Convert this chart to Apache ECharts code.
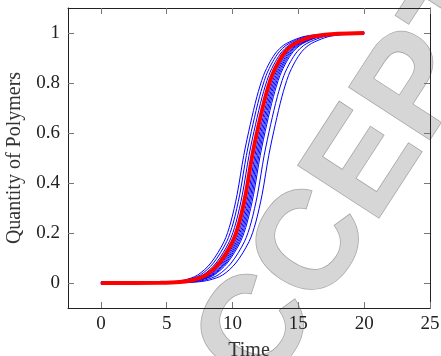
<!DOCTYPE html>
<html>
<head>
<meta charset="utf-8">
<script src="https://cdn.jsdelivr.net/npm/echarts@6/dist/echarts.min.js"></script>
<style>
  html, body { margin: 0; padding: 0; background: #fff; }
  #main { width: 441px; height: 356px; }
</style>
</head>
<body>
<div id="main"></div>
<script>
var yLevels = [0, 0.001, 0.004, 0.012, 0.032, 0.08, 0.165, 0.24, 0.355, 0.51, 0.635, 0.745, 0.83, 0.885, 0.925, 0.95, 0.965, 0.985, 0.993, 0.997, 1];

// time at which each curve reaches the level above
var redTimes = [0, 4.5, 6, 7, 8, 9, 10, 10.5, 11, 11.5, 12, 12.5, 13, 13.5, 14, 14.5, 15, 16, 17, 18, 20];
var blueTimes = [
    [0, 3.85, 5.35, 6.35, 7.35, 8.35, 9.35, 9.85, 10.35, 10.85, 11.35, 11.85, 12.35, 12.85, 13.35, 13.85, 14.35, 15.35, 16.35, 17.35, 20],
    [0, 4.05, 5.55, 6.55, 7.55, 8.55, 9.55, 10.05, 10.55, 11.05, 11.55, 12.05, 12.55, 13.05, 13.55, 14.05, 14.55, 15.55, 16.55, 17.55, 20],
    [0, 4.25, 5.75, 6.75, 7.75, 8.75, 9.75, 10.25, 10.75, 11.25, 11.75, 12.25, 12.75, 13.25, 13.75, 14.25, 14.75, 15.75, 16.75, 17.75, 20],
    [0, 4.7, 6.2, 7.2, 8.2, 9.2, 10.2, 10.7, 11.2, 11.7, 12.2, 12.7, 13.2, 13.7, 14.2, 14.7, 15.2, 16.2, 17.2, 18.2, 20],
    [0, 4.8, 6.3, 7.3, 8.3, 9.3, 10.3, 10.8, 11.3, 11.8, 12.3, 12.8, 13.3, 13.8, 14.3, 14.8, 15.3, 16.3, 17.3, 18.3, 20],
    [0, 4.9, 6.4, 7.4, 8.4, 9.4, 10.4, 10.9, 11.4, 11.9, 12.4, 12.9, 13.4, 13.9, 14.4, 14.9, 15.4, 16.4, 17.4, 18.4, 20],
    [0, 5.0, 6.5, 7.5, 8.5, 9.5, 10.5, 11.0, 11.5, 12.0, 12.5, 13.0, 13.5, 14.0, 14.5, 15.0, 15.5, 16.5, 17.5, 18.5, 20],
    [0, 5.1, 6.6, 7.6, 8.6, 9.6, 10.6, 11.1, 11.6, 12.1, 12.6, 13.1, 13.6, 14.1, 14.6, 15.1, 15.6, 16.6, 17.6, 18.6, 20],
    [0, 5.4, 6.9, 7.9, 8.9, 9.9, 10.9, 11.4, 11.9, 12.4, 12.9, 13.4, 13.9, 14.4, 14.9, 15.4, 15.9, 16.9, 17.9, 18.9, 20],
    [0, 5.75, 7.25, 8.25, 9.25, 10.25, 11.25, 11.75, 12.25, 12.75, 13.25, 13.75, 14.25, 14.75, 15.25, 15.75, 16.25, 17.25, 18.25, 19.25, 20]
];

var xTicks = [0, 5, 10, 15, 20, 25];
var yTicks = [0, 0.2, 0.4, 0.6, 0.8, 1];

var serif = '"Liberation Serif", "DejaVu Serif", serif';
var tickColor = '#777';

function pairs(times) {
    return times.map(function (t, i) { return [t, yLevels[i]]; });
}

var series = blueTimes.map(function (times) {
    return {
        type: 'line',
        data: pairs(times),
        showSymbol: false,
        smooth: 0.3,
        lineStyle: { color: '#0000ff', width: 1 },
        z: 3,
        silent: true
    };
});
series.push({
    type: 'line',
    data: pairs(redTimes),
    showSymbol: false,
    smooth: 0.3,
    lineStyle: { color: '#ff0000', width: 4 },
    z: 4,
    silent: true
});

function xAxisDef(pos, show) {
    return {
        type: 'value', position: pos, min: -2.5, max: 25,
        name: show ? 'Time' : '', nameLocation: 'middle', nameGap: 33,
        nameTextStyle: { fontFamily: serif, fontSize: 20, color: '#333' },
        axisLine: { show: true, onZero: false, lineStyle: { color: '#222', width: 1 } },
        axisTick: { show: true, inside: true, length: 6, customValues: xTicks, lineStyle: { color: tickColor } },
        axisLabel: { show: show, customValues: xTicks, margin: 7, fontFamily: serif, fontSize: 19, color: '#222' },
        splitLine: { show: false }
    };
}
function yAxisDef(pos, show) {
    return {
        type: 'value', position: pos, min: -0.1, max: 1.1,
        name: show ? 'Quantity of Polymers' : '', nameLocation: 'middle', nameGap: 43,
        nameTextStyle: { fontFamily: serif, fontSize: 20, color: '#333' },
        axisLine: { show: true, onZero: false, lineStyle: { color: '#222', width: 1 } },
        axisTick: { show: true, inside: true, length: 6, customValues: yTicks, lineStyle: { color: tickColor } },
        axisLabel: { show: show, customValues: yTicks, margin: 8, fontFamily: serif, fontSize: 19, color: '#222' },
        splitLine: { show: false }
    };
}

var myChart = echarts.init(document.getElementById('main'), null, { renderer: 'canvas' });
myChart.setOption({
    backgroundColor: '#fff',
    animation: false,
    grid: { left: 68, right: 11, top: 8, bottom: 48, containLabel: false, outerBoundsMode: 'none' },
    xAxis: [xAxisDef('bottom', true), xAxisDef('top', false)],
    yAxis: [yAxisDef('left', true), yAxisDef('right', false)],
    // watermark across the plot
    graphic: [{
        type: 'text',
        x: 386, y: 136,
        rotation: 57 * Math.PI / 180,
        z: 0,
        silent: true,
        style: {
            text: 'ACCEPTED',
            x: 0, y: 0,
            align: 'center', verticalAlign: 'middle',
            fontFamily: '"Liberation Sans", "DejaVu Sans", sans-serif',
            fontWeight: 'bold',
            fontSize: 140,
            fill: '#d6d6d6',
            stroke: '#a5a5a5',
            lineWidth: 1.5,
            shadowColor: 'rgba(0,0,0,0.4)',
            shadowBlur: 7,
            shadowOffsetX: 3,
            shadowOffsetY: 3
        }
    }],
    series: series
});
</script>
</body>
</html>
